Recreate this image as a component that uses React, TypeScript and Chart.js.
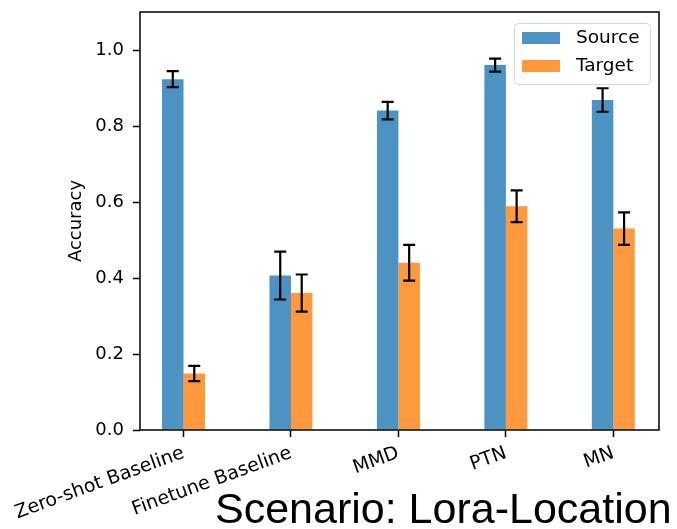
import React, { useEffect, useRef } from "react";
import { Chart, registerables } from "chart.js";

Chart.register(...registerables);

const categories = ["Zero-shot Baseline", "Finetune Baseline", "MMD", "PTN", "MN"];
const sourceAcc = [0.925, 0.407, 0.842, 0.962, 0.87];
const sourceErr = [0.021, 0.063, 0.023, 0.017, 0.031];
const targetAcc = [0.149, 0.361, 0.441, 0.59, 0.531];
const targetErr = [0.02, 0.049, 0.047, 0.042, 0.043];
const yTicks = [0, 0.2, 0.4, 0.6, 0.8, 1.0];
const seriesLabels = ["Source", "Target"];
const seriesColors = ["rgba(31,119,180,0.8)", "rgba(255,127,14,0.8)"];
const titleText = "Scenario: Lora-Location";

const FONT = "'DejaVu Sans', sans-serif";

const errorBarPlugin = {
  id: "errorBars",
  afterDatasetsDraw(chart: any) {
    const { ctx, scales } = chart;
    const y = scales.y;
    ctx.save();
    ctx.strokeStyle = "#000";
    ctx.lineWidth = 2.2;
    chart.data.datasets.forEach((ds: any, di: number) => {
      const meta = chart.getDatasetMeta(di);
      const errs: number[] = ds.errors || [];
      meta.data.forEach((el: any, i: number) => {
        const v = ds.data[i].y;
        const e = errs[i];
        const yt = y.getPixelForValue(v + e);
        const yb = y.getPixelForValue(v - e);
        const x = el.x;
        const cap = 6;
        ctx.beginPath();
        ctx.moveTo(x, yt);
        ctx.lineTo(x, yb);
        ctx.moveTo(x - cap, yt);
        ctx.lineTo(x + cap, yt);
        ctx.moveTo(x - cap, yb);
        ctx.lineTo(x + cap, yb);
        ctx.stroke();
      });
    });
    const a = chart.chartArea;
    ctx.strokeStyle = "#000";
    ctx.lineWidth = 1.5;
    ctx.strokeRect(a.left, a.top, a.right - a.left, a.bottom - a.top);
    ctx.restore();
  },
  afterDraw(chart: any) {
    const { ctx } = chart;
    const a = chart.chartArea;
    const bw = 136;
    const bh = 61;
    const bx = a.right - 9 - bw;
    const by = a.top + 11;
    ctx.save();
    ctx.beginPath();
    if (ctx.roundRect) ctx.roundRect(bx + 0.5, by + 0.5, bw, bh, 4);
    else ctx.rect(bx + 0.5, by + 0.5, bw, bh);
    ctx.fillStyle = "rgba(255,255,255,0.8)";
    ctx.fill();
    ctx.strokeStyle = "#d6d6d6";
    ctx.lineWidth = 1;
    ctx.stroke();
    ctx.font = `18.5px ${FONT}`;
    ctx.textBaseline = "middle";
    ctx.textAlign = "left";
    chart.data.datasets.forEach((ds: any, i: number) => {
      const py = by + 9 + i * 28;
      ctx.fillStyle = ds.backgroundColor;
      ctx.fillRect(bx + 8, py, 38, 12);
      ctx.fillStyle = "#000";
      ctx.fillText(ds.label, bx + 62, py + 6.5);
    });
    ctx.restore();
  },
};

export default function App() {
  const canvasRef = useRef<HTMLCanvasElement | null>(null);

  useEffect(() => {
    if (!canvasRef.current) return;
    Chart.defaults.color = "#000";
    const chart = new Chart(canvasRef.current, {
      type: "bar",
      data: {
        datasets: [
          {
            label: seriesLabels[0],
            data: sourceAcc.map((v, i) => ({ x: i, y: v })),
            errors: sourceErr,
            backgroundColor: seriesColors[0],
            borderWidth: 0,
            categoryPercentage: 0.4,
            barPercentage: 1.0,
          } as any,
          {
            label: seriesLabels[1],
            data: targetAcc.map((v, i) => ({ x: i, y: v })),
            errors: targetErr,
            backgroundColor: seriesColors[1],
            borderWidth: 0,
            categoryPercentage: 0.4,
            barPercentage: 1.0,
          } as any,
        ],
      },
      options: {
        animation: false,
        responsive: true,
        maintainAspectRatio: false,
        layout: { padding: { left: 0, top: 12, right: 18, bottom: 0 } },
        plugins: {
          legend: { display: false },
          tooltip: { enabled: false },
          title: { display: false },
        },
        scales: {
          x: {
            type: "linear",
            min: -0.405,
            max: 4.425,
            offset: false,
            grid: {
              display: true,
              offset: false,
              drawOnChartArea: false,
              drawTicks: true,
              tickLength: 7,
              tickWidth: 1.5,
              tickColor: "#000",
            },
            border: { display: false },
            afterBuildTicks: (axis: any) => {
              axis.ticks = categories.map((_, i) => ({ value: i }));
            },
            afterFit: (axis: any) => {
              axis.height = 99;
              axis.paddingLeft = 0;
              axis.paddingRight = 0;
              axis.paddingTop = 0;
              axis.paddingBottom = 0;
            },
            ticks: {
              autoSkip: false,
              minRotation: 20,
              maxRotation: 20,
              padding: 5,
              color: "#000",
              font: { family: FONT, size: 19 },
              callback: (v: any) => categories[Math.round(Number(v))] ?? "",
            },
          },
          y: {
            type: "linear",
            min: 0,
            max: 1.102,
            grid: {
              display: true,
              drawOnChartArea: false,
              drawTicks: true,
              tickLength: 7,
              tickWidth: 1.5,
              tickColor: "#000",
            },
            border: { display: false },
            afterBuildTicks: (axis: any) => {
              axis.ticks = yTicks.map((v) => ({ value: v }));
            },
            afterFit: (axis: any) => {
              axis.width = 140;
              axis.paddingTop = 0;
              axis.paddingBottom = 0;
              axis.paddingLeft = 0;
              axis.paddingRight = 0;
            },
            ticks: {
              padding: 9,
              color: "#000",
              font: { family: FONT, size: 18 },
              callback: (v: any) => Number(v).toFixed(1),
            },
            title: {
              display: true,
              text: "Accuracy",
              color: "#000",
              font: { family: FONT, size: 18, lineHeight: 1.2 },
              padding: { top: 66, bottom: 0 },
            },
          },
        },
      } as any,
      plugins: [errorBarPlugin],
    });
    return () => chart.destroy();
  }, []);

  return (
    <div
      style={{
        position: "fixed",
        left: 0,
        top: 0,
        width: 677,
        height: 529,
        background: "#fff",
      }}
    >
      <canvas ref={canvasRef} />
      <div
        style={{
          position: "absolute",
          left: 215,
          top: 487,
          fontFamily: "'Liberation Sans', Arial, sans-serif",
          fontSize: 43,
          lineHeight: 1,
          whiteSpace: "nowrap",
          color: "#000",
        }}
      >
        {titleText}
      </div>
    </div>
  );
}
